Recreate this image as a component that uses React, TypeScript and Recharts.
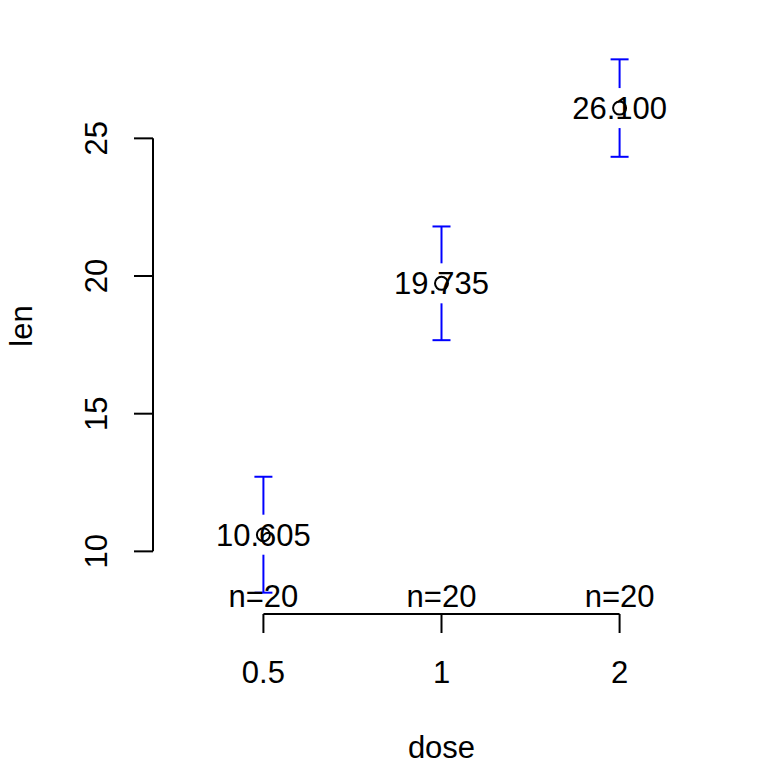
import { ComposedChart, Scatter, XAxis, YAxis, ErrorBar, ReferenceLine } from "recharts";

const doses = ["0.5", "1", "2"];
const means = [10.605, 19.735, 26.1];
const lower = [8.5, 17.67, 24.33];
const upper = [12.71, 21.8, 27.87];
const counts = [20, 20, 20];
const yTicks = [10, 15, 20, 25];

const FONT = '"Liberation Sans", Arial, Helvetica, sans-serif';
const FS = 31;

// R-style 4% padding around the data ranges
const xMin = 0.38;
const xMax = 3.62;
const yMin = 7.725;
const yMax = 28.645;

const meanData = doses.map((d, i) => ({
  x: i + 1,
  y: means[i],
  err: [means[i] - lower[i], upper[i] - means[i]],
  label: means[i].toFixed(3),
}));

const nData = doses.map((d, i) => ({
  x: i + 1,
  y: yMin,
  label: `n=${counts[i]}`,
}));

// white strip leaves the gap in the CI bar around the mean, like plotCI
const MeanShape = (props: any) => {
  const { cx, cy, payload } = props;
  return (
    <g>
      <rect x={cx - 4} y={cy - 20} width={8} height={40} fill="#fff" />
      <circle cx={cx} cy={cy} r={6.5} fill="none" stroke="#000" strokeWidth={2} />
      <text x={cx} y={cy + 11} textAnchor="middle" fontSize={FS} fontFamily={FONT} fill="#000">
        {payload.label}
      </text>
    </g>
  );
};

const NShape = (props: any) => {
  const { cx, cy, payload } = props;
  return (
    <text x={cx} y={cy - 7} textAnchor="middle" fontSize={FS} fontFamily={FONT} fill="#000">
      {payload.label}
    </text>
  );
};

const XTick = (props: any) => {
  const { x, y, payload } = props;
  return (
    <text x={x} y={y + 50} textAnchor="middle" fontSize={FS} fontFamily={FONT} fill="#000">
      {doses[payload.value - 1]}
    </text>
  );
};

const YTick = (props: any) => {
  const { x, y, payload } = props;
  const bx = x - 27;
  return (
    <text
      x={bx}
      y={y}
      transform={`rotate(-90, ${bx}, ${y})`}
      textAnchor="middle"
      fontSize={FS}
      fontFamily={FONT}
      fill="#000"
    >
      {payload.value}
    </text>
  );
};

const XTitle = (props: any) => {
  const vb = props.viewBox;
  return (
    <text x={vb.x + vb.width / 2} y={758} textAnchor="middle" fontSize={FS} fontFamily={FONT} fill="#000">
      dose
    </text>
  );
};

const YTitle = (props: any) => {
  const vb = props.viewBox;
  const cy = vb.y + vb.height / 2;
  return (
    <text
      x={32}
      y={cy}
      transform={`rotate(-90, 32, ${cy})`}
      textAnchor="middle"
      fontSize={FS}
      fontFamily={FONT}
      fill="#000"
    >
      len
    </text>
  );
};

export default function App() {
  return (
    <div style={{ position: "absolute", left: 0, top: 0, width: 768, height: 768, background: "#fff" }}>
      <ComposedChart width={768} height={768} margin={{ top: 38, right: 38, bottom: 0, left: 0 }}>
        <XAxis
          type="number"
          dataKey="x"
          domain={[xMin, xMax]}
          ticks={[1, 2, 3]}
          interval={0}
          allowDataOverflow
          axisLine={false}
          tickLine={{ stroke: "#000", strokeWidth: 2 }}
          tickSize={19}
          tickMargin={0}
          height={154}
          tick={XTick}
          label={XTitle}
        />
        <YAxis
          type="number"
          dataKey="y"
          domain={[yMin, yMax]}
          ticks={yTicks}
          interval={0}
          allowDataOverflow
          axisLine={false}
          tickLine={{ stroke: "#000", strokeWidth: 2 }}
          tickSize={19}
          tickMargin={0}
          width={153}
          tick={YTick}
          label={YTitle}
        />
        <ReferenceLine
          segment={[{ x: xMin, y: yTicks[0] }, { x: xMin, y: yTicks[yTicks.length - 1] }]}
          stroke="#000"
          strokeWidth={2}
          ifOverflow="visible"
        />
        <ReferenceLine
          segment={[{ x: 1, y: yMin }, { x: doses.length, y: yMin }]}
          stroke="#000"
          strokeWidth={2}
          ifOverflow="visible"
        />
        <Scatter data={meanData} shape={MeanShape} isAnimationActive={false}>
          <ErrorBar dataKey="err" direction="y" width={9} stroke="#0000ff" strokeWidth={2} />
        </Scatter>
        <Scatter data={nData} shape={NShape} isAnimationActive={false} />
      </ComposedChart>
    </div>
  );
}
